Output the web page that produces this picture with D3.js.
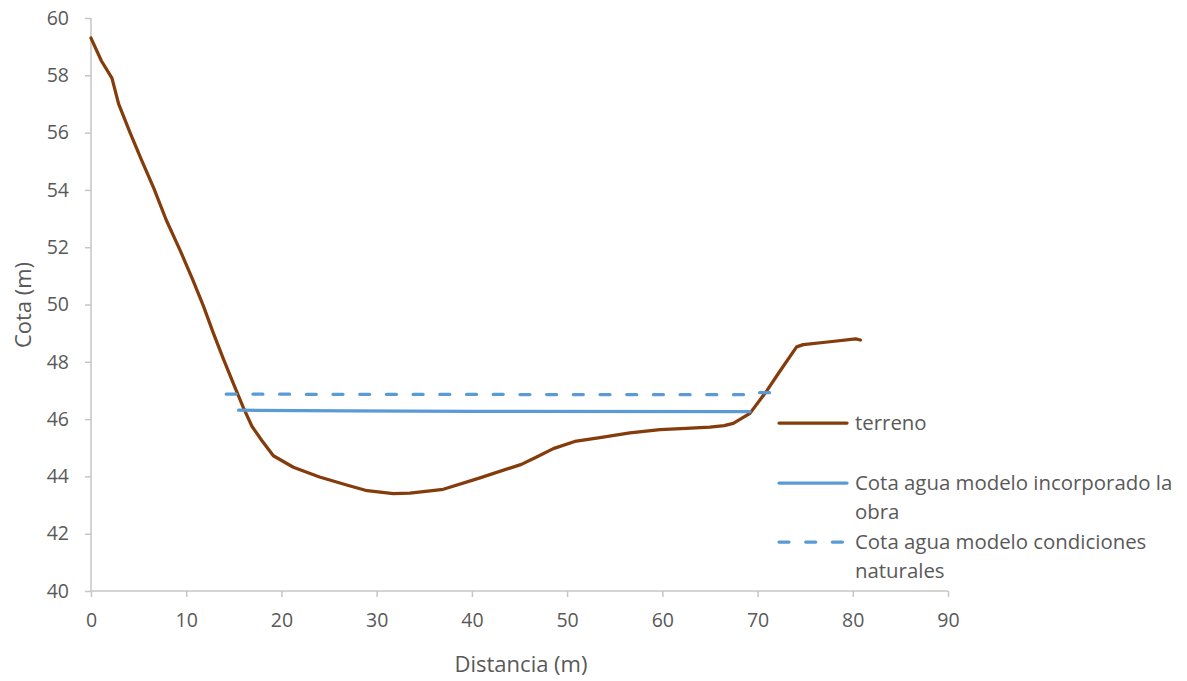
<!DOCTYPE html>
<html><head><meta charset="utf-8">
<script src="https://cdn.jsdelivr.net/npm/d3@7"></script>
<style>body{margin:0;background:#fff;} text{font-family:"Open Sans",sans-serif;fill:#595959;}</style>
</head><body><svg id="c" width="1187" height="681"></svg>
<script>
const terrenoX = [0,1.1,2.2,2.9,4.1,5.3,6.6,7.9,9.35,10.7,11.8,12.85,13.9,15.0,16.0,16.9,17.9,19.15,21.25,24.0,26.85,29.0,31.75,33.5,37.0,40.85,45.2,46.8,48.55,50.8,53.45,56.6,59.75,62.5,65.0,66.5,67.45,69.2,71.0,72.2,74.1,74.8,77.6,80.3,80.8];
const terrenoY = [59.3,58.5,57.9,57.0,56.0,55.05,54.05,52.95,51.9,50.85,49.95,49.0,48.1,47.2,46.4,45.75,45.27,44.72,44.32,43.98,43.7,43.5,43.4,43.42,43.55,43.95,44.42,44.68,44.97,45.22,45.35,45.52,45.63,45.68,45.72,45.77,45.85,46.2,47.0,47.6,48.52,48.6,48.7,48.8,48.76];
const obraX = [15.5,27,40,69.2];
const obraY = [46.31,46.29,46.27,46.26];
const naturalX = [14.2,40,68.9,69.2,72.0];
const naturalY = [46.87,46.86,46.85,46.92,46.92];
const xTicks = [0,10,20,30,40,50,60,70,80,90];
const yTicks = [40,42,44,46,48,50,52,54,56,58,60];
const legendLabels = [["terreno"],["Cota agua modelo incorporado la","obra"],["Cota agua modelo condiciones","naturales"]];
const colors = ["#843c0c","#5b9bd5","#5b9bd5"];

const svg = d3.select("#c");
const x = d3.scaleLinear().domain([0,90]).range([91,948]);
const y = d3.scaleLinear().domain([40,60]).range([591,18]);

const xa = svg.append("g").attr("transform","translate(0,591)")
  .call(d3.axisBottom(x).tickValues(xTicks).tickSize(6).tickPadding(16));
const ya = svg.append("g").attr("transform","translate(91,0)")
  .call(d3.axisLeft(y).tickValues(yTicks).tickSize(6).tickPadding(16));
[xa,ya].forEach(a=>{
  a.select(".domain").attr("stroke","#c6c6c6").attr("stroke-width",1.5);
  a.selectAll(".tick line").attr("stroke","#c6c6c6").attr("stroke-width",1.5);
  a.selectAll(".tick text").style("font-size","19.5px").attr("fill","#595959").style("font-family","'Open Sans',sans-serif");
});
ya.select(".domain").attr("d","M0,591V18");
xa.select(".domain").attr("d","M"+x(0)+",0H"+x(90));

const line = d3.line().x(d=>x(d[0])).y(d=>y(d[1]));
svg.append("path").datum(terrenoX.map((v,i)=>[v,terrenoY[i]]))
  .attr("d",line).attr("fill","none").attr("stroke",colors[0]).attr("stroke-width",3.25).attr("stroke-linejoin","round").attr("stroke-linecap","round");
svg.append("path").datum(obraX.map((v,i)=>[v,obraY[i]]))
  .attr("d",line).attr("fill","none").attr("stroke",colors[1]).attr("stroke-width",3.25).attr("stroke-linecap","round");
svg.append("path").datum(naturalX.map((v,i)=>[v,naturalY[i]]))
  .attr("d",line).attr("fill","none").attr("stroke",colors[2]).attr("stroke-width",3.25).attr("stroke-linecap","round").attr("stroke-dasharray","10,16.7");

// axis titles
svg.append("text").attr("x",521).attr("y",672).attr("text-anchor","middle").style("font-size","22px").text("Distancia (m)");
svg.append("text").attr("transform","translate(31,305) rotate(-90)").attr("text-anchor","middle").style("font-size","22px").text("Cota (m)");

// legend
const legY = [423,483,542];
legendLabels.forEach((lab,i)=>{
  const g = svg.append("g");
  const l = g.append("line").attr("x1",779).attr("x2",847).attr("y1",legY[i]).attr("y2",legY[i])
    .attr("stroke",colors[i]).attr("stroke-width",3.25).attr("stroke-linecap","round");
  if(i===2) l.attr("stroke-dasharray","10,16.7");
  lab.forEach((t,j)=>{
    g.append("text").attr("x",855).attr("y",legY[i]+7+j*28.5).style("font-size","20.4px").text(t);
  });
});
</script></body></html>
